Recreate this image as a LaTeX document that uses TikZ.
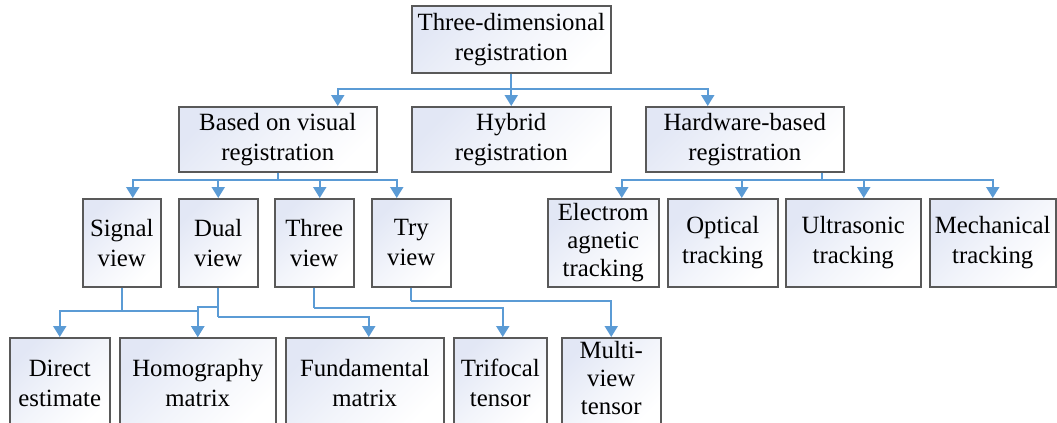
\documentclass[tikz,border=0pt]{standalone}
\usepackage{fontspec}
\setmainfont{LiberationSerif}[Extension=.ttf,UprightFont=*-Regular,BoldFont=*-Bold]
\usetikzlibrary{arrows.meta,calc}
\definecolor{conncol}{RGB}{91,155,213}
\definecolor{boxline}{RGB}{89,89,89}
\definecolor{boxfill}{RGB}{226,231,245}
\tikzset{
  box/.style={draw=boxline, line width=0.75pt, top color=boxfill, bottom color=white, middle color=boxfill!45!white, shading angle=45,
    anchor=north west, align=center, inner sep=0pt, font=\fontsize{12.4}{15}\selectfont},
  wire/.style={draw=conncol, line width=1pt},
  conn/.style={wire, -{Triangle[width=6.5pt,length=5.5pt]}},
}
\newcommand{\bx}[6]{\node[box, minimum width={(#4-#2)*0.5pt}, minimum height={(#5-#3)*0.5pt}] (#1) at (#2,#3) {#6};}
\begin{document}
\begin{tikzpicture}[x=0.5pt,y=-0.5pt]
\useasboundingbox (0,0) rectangle (1057,423);
\clip (0,0) rectangle (1057,423);
\fill[white] (0,0) rectangle (1057,423);
% boxes
\bx{top}{411}{5}{610}{72}{Three-dimensional\\registration}
\bx{based}{178}{106}{376}{171}{Based on visual\\registration}
\bx{hybrid}{411}{106}{610}{171}{Hybrid\\registration}
\bx{hard}{645}{106}{843}{171}{Hardware-based\\registration}
\bx{signal}{82}{198}{160}{286}{Signal\\view}
\bx{dual}{178}{198}{257}{286}{Dual\\view}
\bx{three}{274}{198}{353}{286}{Three\\view}
\bx{try}{371}{198}{450}{286}{Try\\view}
\node[box, minimum width={111*0.5pt}, minimum height={88*0.5pt}, font=\fontsize{12.4}{14}\selectfont] (elec) at (547,198) {Electrom\\agnetic\\tracking};
\bx{opt}{667}{198}{777}{286}{Optical\\tracking}
\bx{ultra}{785}{198}{920}{286}{Ultrasonic\\tracking}
\bx{mech}{929}{198}{1055}{286}{Mechanical\\tracking}
\bx{direct}{9}{337}{109}{428}{Direct\\estimate}
\bx{homo}{119}{337}{275}{428}{Homography\\matrix}
\bx{fund}{285}{337}{443}{428}{Fundamental\\matrix}
\bx{trif}{453}{337}{546}{428}{Trifocal\\tensor}
\node[box, minimum width={99*0.5pt}, minimum height={91*0.5pt}, font=\fontsize{12.4}{14}\selectfont, text depth=5pt] (multi) at (561,337) {Multi-\\view\\tensor};
% level 1
\coordinate (j1) at (top.south |- 0,89);
\draw[wire] (top.south) -- (j1);
\draw[conn] (j1) -| ([xshift=30pt]based.north);
\draw[conn] (top.south) -- (hybrid.north);
\draw[conn] (j1) -| ([xshift=-18.5pt]hard.north);
% level 2 left
\coordinate (j2) at (based.south |- 0,180);
\draw[wire] (based.south) -- (j2);
\draw[conn] (j2) -| ([xshift=5.5pt]signal.north);
\draw[conn] (j2) -| (dual.north);
\draw[conn] (j2) -| ([xshift=2.75pt]three.north);
\draw[conn] (j2) -| ([xshift=-7.25pt]try.north);
% level 2 right
\coordinate (j3) at ([xshift=38.5pt]hard.south |- 0,180);
\draw[wire] ([xshift=38.5pt]hard.south) -- (j3);
\draw[conn] (j3) -| ([xshift=9.25pt]elec.north);
\draw[conn] (j3) -| ([xshift=9.5pt]opt.north);
\draw[conn] (j3) -| ([xshift=5.25pt]ultra.north);
\draw[conn] (j3) -| (mech.north);
% level 3
\coordinate (s1) at (signal.south |- 0,311);
\draw[wire] (signal.south) -- (s1);
\draw[conn] (s1) -| (direct.north);
\draw[conn] (s1) -| (homo.north);
\coordinate (d1) at (dual.south |- 0,317);
\coordinate (d2) at (dual.south |- 0,307);
\draw[wire] (dual.south) -- (d1);
\draw[conn] (d1) -| ([xshift=2pt]fund.north);
\draw[conn] (d2) -| (homo.north);
\coordinate (t1) at (three.south |- 0,308);
\draw[wire] (three.south) -- (t1);
\draw[conn] (t1) -| ([xshift=1.25pt]trif.north);
\coordinate (y1) at (try.south |- 0,301);
\draw[wire] (try.south) -- (y1);
\draw[conn] (y1) -| (multi.north);
\end{tikzpicture}
\end{document}
